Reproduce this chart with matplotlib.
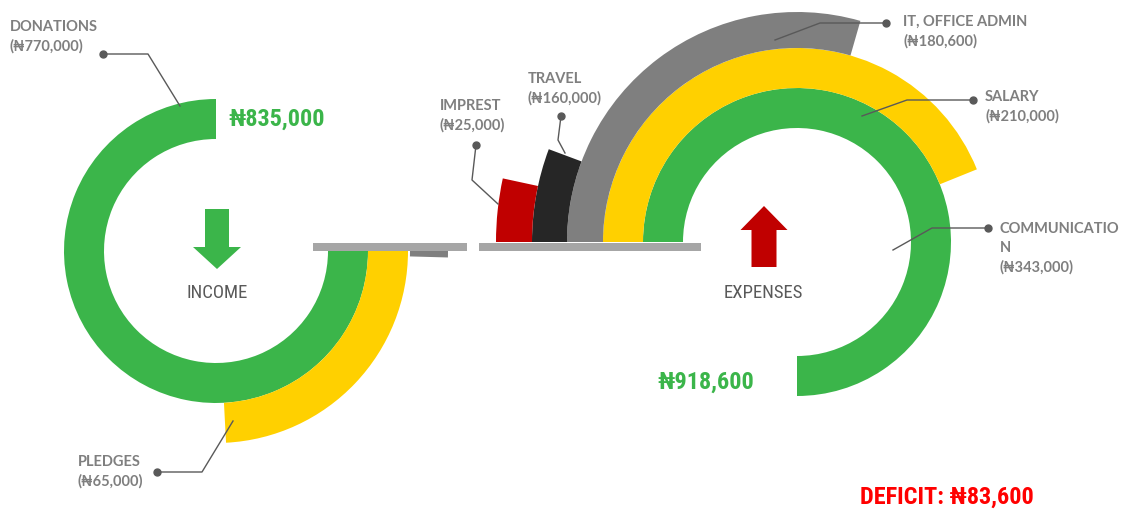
import matplotlib.pyplot as plt
from matplotlib.patches import Wedge, Rectangle, FancyArrow

# values shown on the chart
income_labels = ["DONATIONS", "PLEDGES"]
income_values = [770000, 65000]
expense_labels = ["COMMUNICATIO\nN", "SALARY", "IT, OFFICE ADMIN", "TRAVEL", "IMPREST"]
expense_values = [343000, 210000, 180600, 160000, 25000]
income_total = 835000
expense_total = 918600
deficit = 83600

# arc sweep (degrees) of each ring as drawn in the picture
income_sweep = [270, 87, 1.6]
expense_sweep = [270, 158, 106, 20.5, 12.2]

GREEN = "#3bb54a"
YELLOW = "#ffd000"
GRAY = "#7f7f7f"
BLACK = "#262626"
RED = "#c00000"
TXT = "#7f7f7f"
LINE = "#595959"

W, H = 1123, 515


def naira(v):
    return "\u20a6{:,}".format(v)


def py(y):
    # picture rows go down, axes go up
    return H - y


fig = plt.figure(figsize=(W / 100, H / 100), dpi=100)
ax = fig.add_axes([0, 0, 1, 1])
ax.set_xlim(0, W)
ax.set_ylim(0, H)
ax.set_aspect("equal")
ax.axis("off")

# income rings: donations go round counter clockwise from the top,
# pledges and the small grey piece hang clockwise from the right
ci = (216, py(251))
ax.add_patch(Wedge(ci, 152, 90, 90 + income_sweep[0], width=40, color=GREEN, lw=0))
ax.add_patch(Wedge(ci, 192, -income_sweep[1], 0, width=40, color=YELLOW, lw=0))
ax.add_patch(Wedge(ci, 232, -income_sweep[2], 0, width=38, color=GRAY, lw=0))

# expense rings, all start on the left and go clockwise
ce = (797, py(242))
radii = [154, 194, 230, 265, 301]
widths = [40, 40, 36, 35, 36]
colors = [GREEN, YELLOW, GRAY, BLACK, RED]
for r, w, c, s in zip(radii, widths, colors, expense_sweep):
    ax.add_patch(Wedge(ce, r, 180 - s, 180, width=w, color=c, lw=0))

# the two grey base bars
ax.add_patch(Rectangle((313, py(251)), 154, 8, color="#a6a6a6", lw=0))
ax.add_patch(Rectangle((479, py(251)), 222, 8, color="#a6a6a6", lw=0))

# arrows
ax.add_patch(FancyArrow(217, py(209), 0, -60, width=24, head_width=48,
                        head_length=22, length_includes_head=True, color=GREEN, lw=0))
ax.add_patch(FancyArrow(764, py(267), 0, 61, width=25, head_width=47,
                        head_length=24, length_includes_head=True, color=RED, lw=0))

narrow = ["Roboto Condensed", "Roboto", "DejaVu Sans"]
lab = ["Lato", "DejaVu Sans"]

ax.text(217, py(293), "INCOME", family=narrow, fontsize=13.5, color="#595959",
        ha="center", va="center")
ax.text(763, py(293), "EXPENSES", family=narrow, fontsize=13.5, color="#595959",
        ha="center", va="center")

ax.text(228, py(119), naira(income_total), family=narrow, fontsize=17.5,
        weight="bold", color=GREEN, va="center")
ax.text(657, py(382), naira(expense_total), family=narrow, fontsize=17.5,
        weight="bold", color=GREEN, va="center")
ax.text(860, py(497), "DEFICIT: " + naira(deficit), family=narrow, fontsize=17.5,
        weight="bold", color="#ff0000", va="center")


def callout(text, value, tx, ty, pts):
    # label text (centre between the two lines at ty) plus a leader line with a dot
    ax.text(tx, py(ty), text + "\n(" + naira(value) + ")", family=lab, fontsize=10.5,
            weight="bold", color=TXT, va="center", linespacing=1.45)
    xs = [p[0] for p in pts]
    ys = [py(p[1]) for p in pts]
    ax.plot(xs, ys, color=LINE, lw=1)
    ax.plot(xs[0], ys[0], "o", color=LINE, ms=5)


callout(income_labels[0], income_values[0], 10, 37, [(103, 54), (148, 54), (180, 106)])
callout(income_labels[1], income_values[1], 78, 472, [(157, 472), (202, 472), (233, 421)])
callout(expense_labels[4], expense_values[4], 440, 116, [(476, 145), (472, 180), (498, 204)])
callout(expense_labels[3], expense_values[3], 528, 89, [(561, 116), (558, 140), (565, 153)])
callout(expense_labels[2], expense_values[2], 903, 32, [(886, 23), (820, 23), (775, 40)])
callout(expense_labels[1], expense_values[1], 985, 107, [(973, 100), (907, 100), (862, 116)])
ax.text(1000, py(248), expense_labels[0] + "\n(" + naira(expense_values[0]) + ")",
        family=lab, fontsize=10.5, weight="bold", color=TXT, va="center", linespacing=1.45)
ax.plot([988, 932, 893], [py(228), py(228), py(250)], color=LINE, lw=1)
ax.plot(988, py(228), "o", color=LINE, ms=5)

fig.savefig("out.png", dpi=100)
